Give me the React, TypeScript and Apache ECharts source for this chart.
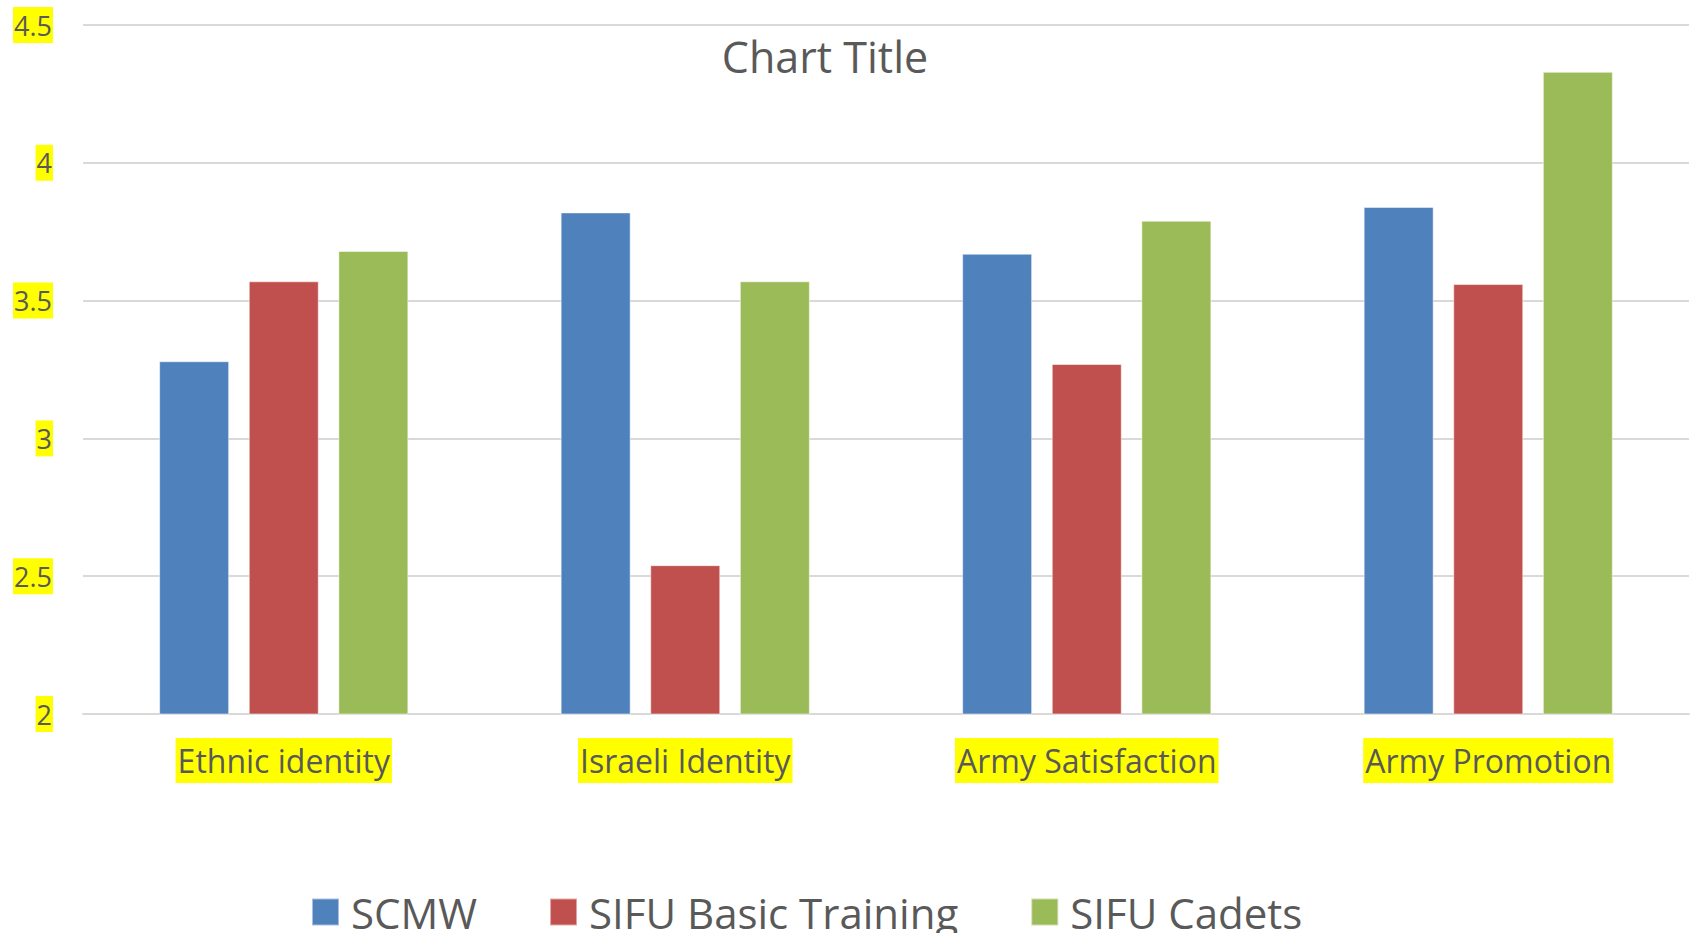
import React, { useEffect, useRef } from "react";
import * as echarts from "echarts";

const categories = ["Ethnic identity", "Israeli Identity", "Army Satisfaction", "Army Promotion"];
const seriesNames = ["SCMW", "SIFU Basic Training", "SIFU Cadets"];
const scmw = [3.28, 3.82, 3.67, 3.84];
const sifuBasic = [3.57, 2.54, 3.27, 3.56];
const sifuCadets = [3.68, 3.57, 3.79, 4.33];
const colors = ["#4F81BD", "#C0504D", "#9BBB59"];
const FONT = "'Open Sans', 'Noto Sans', sans-serif";
const GREY = "#595959";

export default function App() {
  const ref = useRef<HTMLDivElement>(null);
  useEffect(() => {
    if (!ref.current) return;
    const chart = echarts.init(ref.current, undefined, { renderer: "svg" });
    const data = [scmw, sifuBasic, sifuCadets];
    chart.setOption({
      animation: false,
      backgroundColor: "#ffffff",
      textStyle: { fontFamily: FONT },
      graphic: [
        {
          type: "text",
          x: 825,
          y: 56,
          style: {
            text: "Chart Title",
            fontFamily: FONT,
            fontSize: 43,
            fill: GREY,
            textAlign: "center",
            textVerticalAlign: "middle",
          },
        },
      ],
      legend: {
        left: 311,
        top: 891,
        padding: 0,
        itemWidth: 27,
        itemHeight: 27,
        itemGap: 72,
        icon: "rect",
        data: seriesNames,
        textStyle: { fontFamily: FONT, fontSize: 42, color: GREY, padding: [0, 0, 0, 7] },
      },
      grid: { left: 83, right: 5, top: 25, bottom: 219, containLabel: false },
      xAxis: {
        type: "category",
        data: categories,
        axisLine: { show: true, lineStyle: { color: "#D9D9D9", width: 2 } },
        axisTick: { show: false },
        axisLabel: {
          fontFamily: FONT,
          fontSize: 32,
          color: GREY,
          backgroundColor: "#FFFF00",
          padding: [2, 2, 2, 2],
          lineHeight: 41,
          margin: 24,
          interval: 0,
        },
      },
      yAxis: {
        type: "value",
        min: 2,
        max: 4.5,
        interval: 0.5,
        axisLine: { show: false },
        axisTick: { show: false },
        splitLine: { lineStyle: { color: "#D9D9D9", width: 2 } },
        axisLabel: {
          fontFamily: FONT,
          fontSize: 27,
          color: GREY,
          backgroundColor: "#FFFF00",
          padding: [2, 1, 2, 1],
          lineHeight: 32,
          margin: 30,
        },
      },
      series: seriesNames.map((name, i) => ({
        name,
        type: "bar",
        data: data[i],
        barWidth: 70,
        barGap: "28%",
        itemStyle: { color: colors[i], borderColor: "rgba(255,255,255,0.5)", borderWidth: 1 },
      })),
    });
    return () => chart.dispose();
  }, []);
  return (
    <div
      ref={ref}
      style={{ position: "fixed", left: 0, top: 0, width: 1694, height: 933 }}
    />
  );
}
